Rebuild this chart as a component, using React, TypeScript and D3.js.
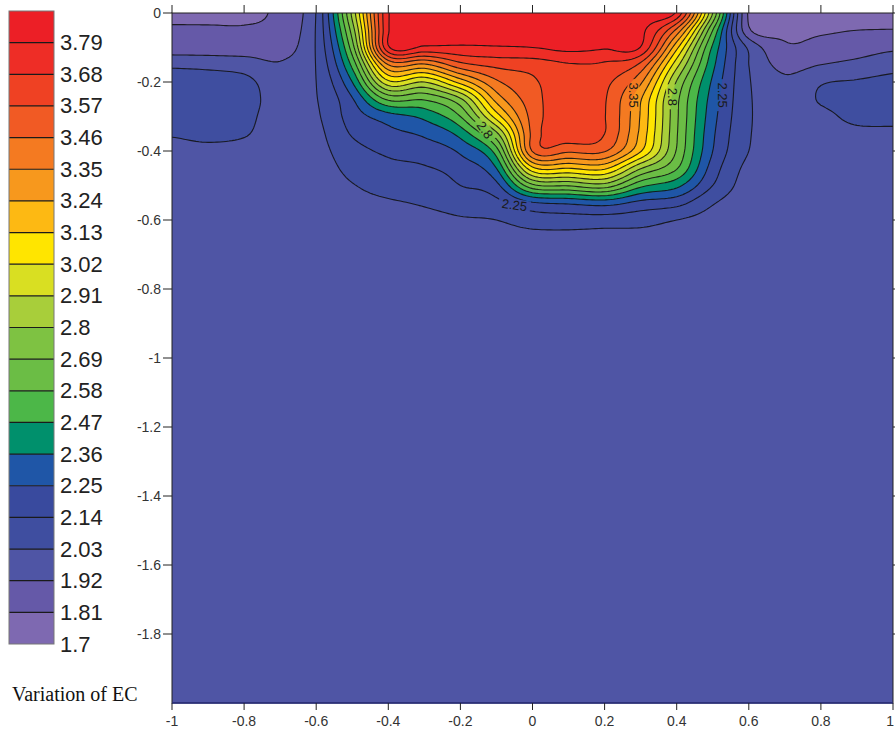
import React, { useMemo } from "react";
import * as d3 from "d3";

// ---------------- data ----------------
const X_NODES = [-1, -0.9, -0.8, -0.7, -0.6, -0.5, -0.4, -0.3, -0.2, -0.1, 0, 0.1, 0.2, 0.3, 0.4, 0.5, 0.6, 0.7, 0.8, 0.9, 1];
const DEPTH_STEP = 0.05; // rows of EC_ROWS are at 0, -0.05, ... -0.7
const DEPTH_MIN = -2;
const DEEP_EC = 1.97; // EC below the measured rows (down to -2)

// EC values, one array per depth row (x = -1 ... 1)
const EC_ROWS = [
  [1.75, 1.75, 1.76, 1.85, 2.035, 2.83, 3.78, 3.86, 3.87, 3.87, 3.87, 3.86, 3.85, 3.84, 3.77, 2.8, 1.79, 1.76, 1.76, 1.74, 1.74],
  [1.837, 1.835, 1.83, 1.86, 2.04, 2.74, 3.78, 3.85, 3.86, 3.86, 3.86, 3.85, 3.84, 3.82, 3.43, 2.58, 1.83, 1.78, 1.795, 1.81, 1.815],
  [1.86, 1.86, 1.86, 1.88, 2.04, 2.64, 3.77, 3.77, 3.77, 3.78, 3.79, 3.82, 3.8, 3.785, 3.16, 2.45, 2.01, 1.83, 1.85, 1.87, 1.9],
  [2.01, 2.0, 1.98, 1.93, 2.035, 2.5, 3.35, 3.33, 3.53, 3.6, 3.62, 3.67, 3.66, 3.54, 2.95, 2.39, 2.03, 1.89, 1.92, 1.95, 1.99],
  [2.08, 2.08, 2.06, 1.97, 2.03, 2.36, 2.99, 2.91, 3.17, 3.44, 3.55, 3.655, 3.6, 3.37, 2.79, 2.34, 2.04, 1.94, 2.02, 2.04, 2.06],
  [2.09, 2.1, 2.07, 1.99, 2.025, 2.24, 2.6, 2.59, 2.78, 3.28, 3.52, 3.65, 3.58, 3.25, 2.72, 2.31, 2.045, 1.96, 2.04, 2.07, 2.08],
  [2.08, 2.09, 2.06, 1.98, 2.015, 2.19, 2.31, 2.39, 2.58, 3.07, 3.5, 3.645, 3.575, 3.23, 2.71, 2.29, 2.045, 1.97, 2.0, 2.06, 2.07],
  [2.04, 2.06, 2.04, 1.97, 2.0, 2.15, 2.22, 2.27, 2.4, 2.77, 3.49, 3.635, 3.57, 3.21, 2.7, 2.27, 2.04, 1.97, 1.975, 2.0, 2.0],
  [1.99, 2.0, 1.99, 1.97, 1.99, 2.1, 2.16, 2.19, 2.27, 2.53, 3.47, 3.48, 3.47, 3.14, 2.68, 2.25, 2.03, 1.97, 1.97, 1.975, 1.975],
  [1.97, 1.97, 1.97, 1.97, 1.98, 2.06, 2.11, 2.13, 2.19, 2.36, 3.1, 3.13, 3.15, 2.81, 2.59, 2.2, 2.0, 1.97, 1.97, 1.97, 1.97],
  [1.97, 1.97, 1.97, 1.97, 1.975, 2.025, 2.065, 2.08, 2.14, 2.22, 2.66, 2.7, 2.75, 2.5, 2.39, 2.14, 1.98, 1.97, 1.97, 1.97, 1.97],
  [1.97, 1.97, 1.97, 1.97, 1.97, 2.0, 2.02, 2.04, 2.075, 2.11, 2.24, 2.27, 2.3, 2.22, 2.18, 2.04, 1.97, 1.97, 1.97, 1.97, 1.97],
  [1.97, 1.97, 1.97, 1.97, 1.97, 1.98, 1.99, 2.0, 2.02, 2.03, 2.08, 2.09, 2.09, 2.075, 2.03, 1.99, 1.97, 1.97, 1.97, 1.97, 1.97],
  [1.97, 1.97, 1.97, 1.97, 1.97, 1.97, 1.97, 1.98, 1.99, 1.99, 2.0, 2.0, 1.99, 1.99, 1.98, 1.97, 1.97, 1.97, 1.97, 1.97, 1.97],
  [1.97, 1.97, 1.97, 1.97, 1.97, 1.97, 1.97, 1.97, 1.97, 1.97, 1.97, 1.97, 1.97, 1.97, 1.97, 1.97, 1.97, 1.97, 1.97, 1.97, 1.97],
];

const THRESHOLDS = [1.7, 1.81, 1.92, 2.03, 2.14, 2.25, 2.36, 2.47, 2.58, 2.69, 2.8, 2.91, 3.02, 3.13, 3.24, 3.35, 3.46, 3.57, 3.68, 3.79];
const BAND_COLORS = [
  "#7E69B1", "#6559A8", "#4F55A5", "#3F4EA0", "#394A9E", "#1F56A7", "#00906C", "#4CB748", "#6BBD45", "#7EC242",
  "#A8CE3A", "#D9DF22", "#FFE500", "#FDB913", "#F7981D", "#F47A21", "#F15A24", "#EF4123", "#EE2D26", "#EC1F26",
];
const LEGEND_LABELS = ["3.79", "3.68", "3.57", "3.46", "3.35", "3.24", "3.13", "3.02", "2.91", "2.8", "2.69", "2.58", "2.47", "2.36", "2.25", "2.14", "2.03", "1.92", "1.81", "1.7"];
const X_TICKS = [-1, -0.8, -0.6, -0.4, -0.2, 0, 0.2, 0.4, 0.6, 0.8, 1];
const Y_TICKS = [0, -0.2, -0.4, -0.6, -0.8, -1, -1.2, -1.4, -1.6, -1.8];
const CONTOUR_LABELS = [
  { text: "2.8", x: -0.132, y: -0.339, angle: 55 },
  { text: "2.25", x: -0.05, y: -0.557, angle: 8 },
  { text: "3.35", x: 0.28, y: -0.238, angle: 90 },
  { text: "2.8", x: 0.387, y: -0.243, angle: 90 },
  { text: "2.25", x: 0.528, y: -0.238, angle: 90 },
];
const LEGEND_TITLE = "Variation of EC";

// ---------------- layout ----------------
const W = 895;
const H = 734;
const PLOT = { left: 172, right: 893, top: 13, bottom: 703 };
const LEGEND = { x: 9, y: 11, w: 45, h: 633 };
const SANS = "'Liberation Sans', Arial, Helvetica, sans-serif";
const SERIF = "'Liberation Serif', 'Times New Roman', serif";

function catmull(p0: number, p1: number, p2: number, p3: number, t: number) {
  return 0.5 * (2 * p1 + (-p0 + p2) * t + (2 * p0 - 5 * p1 + 4 * p2 - p3) * t * t + (-p0 + 3 * p1 - 3 * p2 + p3) * t * t * t);
}

function resample(arr: number[], k: number): number[] {
  const n = arr.length;
  const out: number[] = [];
  const g = (i: number) => arr[Math.max(0, Math.min(n - 1, i))];
  for (let f = 0; f <= (n - 1) * k; f++) {
    const i = Math.floor(f / k);
    const t = f / k - i;
    if (i >= n - 1) { out.push(arr[n - 1]); continue; }
    out.push(catmull(g(i - 1), g(i), g(i + 1), g(i + 2), t));
  }
  return out;
}

export default function App() {
  const xs = d3.scaleLinear().domain([-1, 1]).range([PLOT.left, PLOT.right]);
  const ys = d3.scaleLinear().domain([0, DEPTH_MIN]).range([PLOT.top, PLOT.bottom]);

  const { contours, path } = useMemo(() => {
    const nRows = Math.round(-DEPTH_MIN / DEPTH_STEP) + 1;
    const coarse: number[][] = [];
    for (let r = 0; r < nRows; r++) coarse.push(r < EC_ROWS.length ? EC_ROWS[r] : X_NODES.map(() => DEEP_EC));
    const KX = 12, KY = 6;
    const rowsX = coarse.map((row) => resample(row, KX));
    const nx = rowsX[0].length;
    const cols: number[][] = [];
    for (let i = 0; i < nx; i++) cols.push(resample(rowsX.map((r) => r[i]), KY));
    const ny = cols[0].length;
    const Wp = nx + 2, Hp = ny + 2;
    const values = new Float64Array(Wp * Hp);
    for (let p = 0; p < Hp; p++) {
      const fy = Math.max(0, Math.min(ny - 1, p - 1));
      for (let q = 0; q < Wp; q++) {
        const fx = Math.max(0, Math.min(nx - 1, q - 1));
        values[p * Wp + q] = cols[fx][fy];
      }
    }
    const cs = d3.contours().size([Wp, Hp]).thresholds(THRESHOLDS)(Array.from(values));
    const dx = 2 / (nx - 1);
    const dy = -DEPTH_MIN / (ny - 1);
    const proj = d3.geoTransform({
      point(this: any, x: number, y: number) {
        this.stream.point(xs(-1 + (x - 1.5) * dx), ys(-(y - 1.5) * dy));
      },
    });
    return { contours: cs, path: d3.geoPath(proj as any) };
  }, []);

  const bandH = LEGEND.h / THRESHOLDS.length;

  return (
    <svg width={W} height={H} style={{ position: "absolute", left: 0, top: 0, background: "#fff" }}>
      <defs>
        <clipPath id="plotclip">
          <rect x={PLOT.left} y={PLOT.top} width={PLOT.right - PLOT.left} height={PLOT.bottom - PLOT.top} />
        </clipPath>
        <mask id="lblmask" maskUnits="userSpaceOnUse" x={0} y={0} width={W} height={H}>
          <rect x={0} y={0} width={W} height={H} fill="#fff" />
          {CONTOUR_LABELS.map((l, i) => {
            const w = l.text.length * 7 + 4;
            return (
              <rect key={i} x={-w / 2} y={-6} width={w} height={12} fill="#000"
                transform={`translate(${xs(l.x)},${ys(l.y)}) rotate(${l.angle})`} />
            );
          })}
        </mask>
      </defs>

      {/* filled contours */}
      <g clipPath="url(#plotclip)">
        <rect x={PLOT.left} y={PLOT.top} width={PLOT.right - PLOT.left} height={PLOT.bottom - PLOT.top} fill={BAND_COLORS[0]} />
        {contours.map((c, i) => (
          <path key={i} d={path(c as any) || ""} fill={BAND_COLORS[i]} stroke={BAND_COLORS[i]} strokeWidth={0.4} />
        ))}
        <g mask="url(#lblmask)">
          {contours.map((c, i) =>
            i === 0 ? null : (
              <path key={i} d={path(c as any) || ""} fill="none" stroke="#141414" strokeWidth={1.1} strokeOpacity={0.9} />
            )
          )}
        </g>
        {CONTOUR_LABELS.map((l, i) => (
          <text key={i} transform={`translate(${xs(l.x)},${ys(l.y)}) rotate(${l.angle})`} textAnchor="middle"
            dominantBaseline="central" fontFamily={SANS} fontSize={13} fill="#1a1a1a">{l.text}</text>
        ))}
      </g>

      {/* frame */}
      <rect x={PLOT.left} y={PLOT.top} width={PLOT.right - PLOT.left} height={PLOT.bottom - PLOT.top} fill="none" stroke="#222" strokeWidth={1} />
      <line x1={PLOT.left} x2={PLOT.right} y1={PLOT.bottom} y2={PLOT.bottom} stroke="#2a2f80" strokeWidth={1.5} />

      {/* x ticks (top and bottom) */}
      {X_TICKS.map((t, i) => {
        const last = i === X_TICKS.length - 1;
        return (
          <g key={"x" + t}>
            <line x1={xs(t)} x2={xs(t)} y1={PLOT.top} y2={PLOT.top - 8} stroke="#222" />
            <line x1={xs(t)} x2={xs(t)} y1={PLOT.bottom} y2={PLOT.bottom + 7} stroke="#222" />
            <text x={last ? W - 1 : xs(t)} y={PLOT.bottom + 18} textAnchor={last ? "end" : "middle"} dominantBaseline="central"
              fontFamily={SANS} fontSize={14} fill="#333">
              {String(t)}
            </text>
          </g>
        );
      })}
      {/* y ticks (left and right) */}
      {Y_TICKS.map((t) => (
        <g key={"y" + t}>
          <line x1={PLOT.left} x2={PLOT.left - 9} y1={ys(t)} y2={ys(t)} stroke="#222" />
          <line x1={PLOT.right} x2={PLOT.right + 8} y1={ys(t)} y2={ys(t)} stroke="#222" />
          <text x={PLOT.left - 11} y={ys(t)} textAnchor="end" dominantBaseline="central" fontFamily={SANS} fontSize={14} fill="#333">
            {String(t)}
          </text>
        </g>
      ))}

      {/* legend */}
      <g>
        {LEGEND_LABELS.map((lab, k) => {
          const idx = THRESHOLDS.length - 1 - k;
          return (
            <rect key={k} x={LEGEND.x} y={LEGEND.y + k * bandH} width={LEGEND.w} height={bandH} fill={BAND_COLORS[idx]} />
          );
        })}
        {LEGEND_LABELS.slice(0, -1).map((_, k) => (
          <line key={k} x1={LEGEND.x} x2={LEGEND.x + LEGEND.w} y1={LEGEND.y + (k + 1) * bandH} y2={LEGEND.y + (k + 1) * bandH} stroke="#1a1a1a" strokeWidth={1.2} />
        ))}
        <rect x={LEGEND.x} y={LEGEND.y} width={LEGEND.w} height={LEGEND.h} fill="none" stroke="#777" strokeWidth={1} />
        {LEGEND_LABELS.map((lab, k) => (
          <text key={k} x={LEGEND.x + LEGEND.w + 6} y={LEGEND.y + (k + 1) * bandH} dominantBaseline="central" fontFamily={SANS} fontSize={22} fill="#222">
            {lab}
          </text>
        ))}
        <text x={12} y={701} fontFamily={SERIF} fontSize={20} fill="#111">{LEGEND_TITLE}</text>
      </g>
    </svg>
  );
}
